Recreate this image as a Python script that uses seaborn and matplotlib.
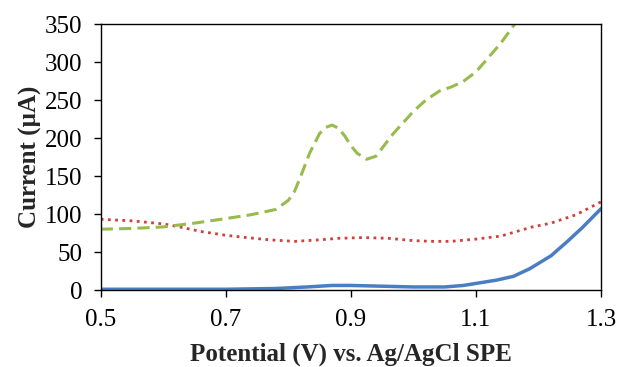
import numpy as np
import pandas as pd
import matplotlib
matplotlib.use("Agg")
import matplotlib.pyplot as plt
import seaborn as sns

# Potential (V) and current (uA)
green_v = [0.50, 0.55, 0.60, 0.65, 0.70, 0.74, 0.78, 0.80, 0.81, 0.82, 0.834, 0.85, 0.86, 0.87,
           0.88, 0.89, 0.90, 0.91, 0.925, 0.94, 0.968, 1.00, 1.02, 1.042, 1.06, 1.079, 1.10,
           1.117, 1.14, 1.162, 1.17]
green_i = [80, 81, 83, 88, 94, 99, 106, 118, 130, 150, 180, 206, 214, 217,
           213, 203, 190, 180, 172, 176, 206, 235, 250, 262, 267, 274, 287,
           303, 325, 350, 360]

red_v = [0.50, 0.55, 0.60, 0.626, 0.66, 0.70, 0.733, 0.77, 0.81, 0.85, 0.88, 0.92, 0.96,
         1.00, 1.03, 1.06, 1.10, 1.14, 1.19, 1.22, 1.26, 1.30]
red_i = [93, 91, 87, 83, 77, 72, 69, 66, 64, 66, 68, 69, 68,
         65, 64, 64, 67, 71, 83, 88, 99, 116]

blue_v = [0.50, 0.60, 0.70, 0.78, 0.83, 0.87, 0.90, 0.95, 1.00, 1.05, 1.08, 1.133, 1.16,
          1.186, 1.22, 1.245, 1.27, 1.30]
blue_i = [1, 1, 1, 2, 4, 6, 6, 5, 4, 4, 6, 13, 18,
          28, 45, 63, 82, 107]

sns.set_style("ticks")
plt.rcParams['font.family'] = ['Liberation Serif', 'DejaVu Serif']

fig = plt.figure(figsize=(6.18, 3.67), dpi=100)
ax = fig.add_axes([0.163, 0.2098, 0.8095, 0.7248])

sns.lineplot(x=blue_v, y=blue_i, ax=ax, color='#4A7EC3', lw=2.5, sort=False)
sns.lineplot(x=red_v, y=red_i, ax=ax, color='#D0403C', lw=2.0, sort=False,
             linestyle=(0, (1, 1.6)))
sns.lineplot(x=green_v, y=green_i, ax=ax, color='#98BB4E', lw=2.2, sort=False,
             linestyle=(0, (4, 2)))

ax.set_xlim(0.5, 1.3)
ax.set_ylim(0, 350)
ax.set_xticks([0.5, 0.7, 0.9, 1.1, 1.3])
ax.set_xticklabels(['0.5', '0.7', '0.9', '1.1', '1.3'])
ax.set_yticks(range(0, 351, 50))
ax.tick_params(axis='both', labelsize=18, length=5, width=1, direction='out', colors='black')
ax.tick_params(axis='x', pad=9)
ax.tick_params(axis='y', pad=8)
for s in ax.spines.values():
    s.set_visible(True)
    s.set_color('black')
    s.set_linewidth(1)

ax.set_xlabel('Potential (V) vs. Ag/AgCl SPE', fontsize=18, fontweight='bold', labelpad=8)
ax.set_ylabel('Current (\u00b5A)', fontsize=18, fontweight='bold', labelpad=2)

fig.savefig('out.png', dpi=100)
